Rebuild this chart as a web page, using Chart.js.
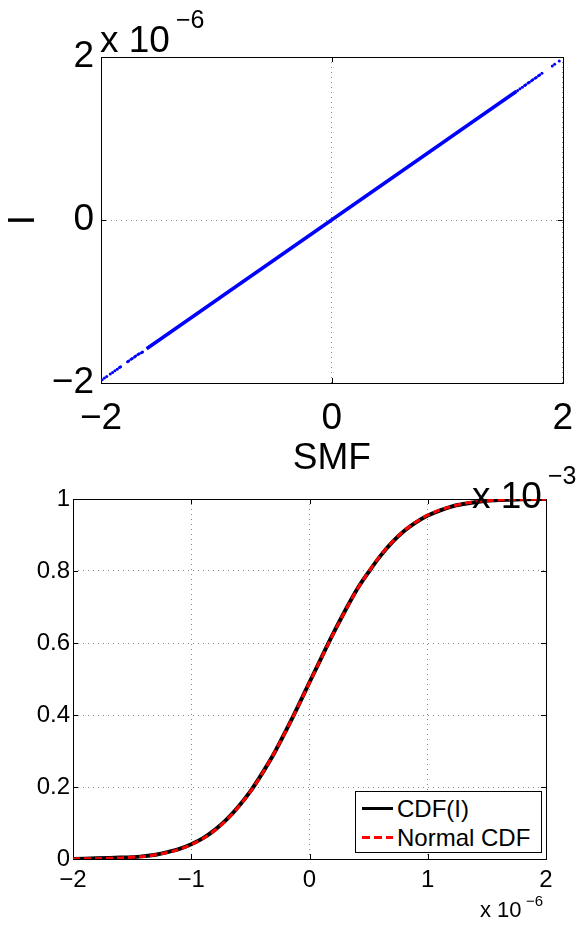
<!DOCTYPE html>
<html>
<head>
<meta charset="utf-8">
<script src="https://cdn.jsdelivr.net/npm/chart.js@4.4.1/dist/chart.umd.min.js"></script>
<style>
  body { margin: 0; background: #fff; width: 587px; height: 925px; position: relative; overflow: hidden;
         font-family: 'Liberation Sans', Arial, sans-serif; }
  canvas { position: absolute; left: 0; }
  .lbl { position: absolute; line-height: 1; white-space: nowrap; color: #000; }
  #legend { position: absolute; left: 355px; top: 791px; width: 185px; height: 60px;
            border: 1px solid #000; background: #fff; }
  #legend .sw { position: absolute; left: 6px; width: 31px; height: 3px; }
  #legend .txt { position: absolute; left: 41px; font-size: 24px; line-height: 1; white-space: nowrap; }
</style>
</head>
<body>
<canvas id="scatterChart" width="587" height="520" style="top:0"></canvas>
<canvas id="cdfChart" width="587" height="455" style="top:470px"></canvas>

<div class="lbl" style="left:100px;top:21px;font-size:37px">x 10</div>
<div class="lbl" style="left:176px;top:7px;font-size:25px">&minus;6</div>
<div class="lbl" style="left:472px;top:477px;font-size:37px">x 10</div>
<div class="lbl" style="left:548px;top:463px;font-size:25px">&minus;3</div>
<div class="lbl" style="left:480px;top:899px;font-size:22px">x 10</div>
<div class="lbl" style="left:526px;top:893px;font-size:15px">&minus;6</div>

<div id="legend">
  <div class="sw" style="top:15px;background:#000"></div>
  <div class="txt" style="top:5px">CDF(I)</div>
  <div class="sw" style="top:44px;background:repeating-linear-gradient(to right,#f00 0 8px,transparent 8px 12px)"></div>
  <div class="txt" style="top:34px">Normal CDF</div>
</div>

<script>
// top plot: I vs SMF (SMF in 1e-3, I in 1e-6)
const denseSmf = [-1.605, 1.60];
const denseI = [-1.58, 1.58];
const tailSmf = [-1.99, -1.97, -1.95, -1.92, -1.90, -1.88, -1.86, -1.84, -1.83,
                 -1.77, -1.76, -1.74, -1.73, -1.71, -1.70, -1.68, -1.67, -1.65, -1.64,
                 1.61, 1.63, 1.65, 1.67, 1.68, 1.70, 1.71, 1.73, 1.74, 1.76, 1.77, 1.79, 1.80, 1.82,
                 1.91, 1.93, 1.97];
const tailI = [-1.96, -1.94, -1.92, -1.89, -1.87, -1.85, -1.83, -1.81, -1.80,
               -1.74, -1.73, -1.71, -1.70, -1.68, -1.67, -1.65, -1.64, -1.63, -1.62,
               1.59, 1.61, 1.63, 1.65, 1.66, 1.68, 1.69, 1.71, 1.72, 1.74, 1.75, 1.77, 1.78, 1.80,
               1.89, 1.91, 1.95];
const topTicks = [-2, 0, 2];

// bottom plot: CDFs (x in 1e-6)
const cdfX = [-2.0, -1.9, -1.8, -1.7, -1.6, -1.5, -1.4, -1.3, -1.2, -1.1, -1.0,
              -0.9, -0.8, -0.7, -0.6, -0.5, -0.4, -0.3, -0.2, -0.1, 0.0,
              0.1, 0.2, 0.3, 0.4, 0.5, 0.6, 0.7, 0.8, 0.9, 1.0,
              1.1, 1.2, 1.3, 1.4, 1.5, 1.6, 1.7, 1.8, 1.9, 2.0];
const cdfEmp = [0.000, 0.001, 0.002, 0.003, 0.004, 0.005, 0.008, 0.012, 0.019, 0.028, 0.041,
                0.058, 0.081, 0.110, 0.146, 0.188, 0.238, 0.293, 0.356, 0.422, 0.491,
                0.559, 0.626, 0.689, 0.748, 0.797, 0.842, 0.880, 0.911, 0.935, 0.954,
                0.968, 0.979, 0.986, 0.991, 0.995, 0.997, 0.998, 0.999, 1.000, 1.000];
const cdfNorm = [0.000, 0.001, 0.001, 0.002, 0.003, 0.005, 0.007, 0.012, 0.018, 0.027, 0.040,
                 0.057, 0.080, 0.109, 0.145, 0.187, 0.237, 0.294, 0.355, 0.421, 0.490,
                 0.558, 0.625, 0.688, 0.747, 0.798, 0.843, 0.881, 0.912, 0.936, 0.955,
                 0.969, 0.979, 0.987, 0.992, 0.995, 0.997, 0.998, 0.999, 0.999, 1.000];
const legendLabels = ['CDF(I)', 'Normal CDF'];

const FONT = "'Liberation Sans', Arial, sans-serif";
Chart.defaults.color = '#000';
Chart.defaults.font.family = FONT;

function fmt(v) {
    const r = Math.round(v * 10) / 10;
    return r < 0 ? '\u2212' + (-r) : String(r);
}

// matlab style box with inward ticks
const boxPlugin = {
    id: 'box',
    beforeDatasetsDraw(chart) {
        const { ctx, chartArea: a, scales } = chart;
        const len = 5;
        ctx.save();
        ctx.strokeStyle = '#000';
        ctx.lineWidth = 1;
        ctx.beginPath();
        scales.x.ticks.forEach(t => {
            const px = Math.round(scales.x.getPixelForValue(t.value)) + 0.5;
            ctx.moveTo(px, a.bottom); ctx.lineTo(px, a.bottom - len);
            ctx.moveTo(px, a.top); ctx.lineTo(px, a.top + len);
        });
        scales.y.ticks.forEach(t => {
            const py = Math.round(scales.y.getPixelForValue(t.value)) + 0.5;
            ctx.moveTo(a.left, py); ctx.lineTo(a.left + len, py);
            ctx.moveTo(a.right, py); ctx.lineTo(a.right - len, py);
        });
        ctx.stroke();
        ctx.strokeRect(Math.round(a.left) + 0.5, Math.round(a.top) + 0.5,
                       Math.round(a.right - a.left), Math.round(a.bottom - a.top));
        ctx.restore();
    }
};

function gridOpts() {
    return { color: '#888', lineWidth: 1, drawTicks: false, borderDash: [1, 4] };
}

new Chart(document.getElementById('scatterChart'), {
    type: 'scatter',
    data: {
        datasets: [{
            data: denseSmf.map((x, i) => ({ x: x, y: denseI[i] })),
            showLine: true,
            borderColor: '#0000ff',
            borderWidth: 3.5,
            pointRadius: 0
        }, {
            data: tailSmf.map((x, i) => ({ x: x, y: tailI[i] })),
            backgroundColor: '#0000ff',
            borderWidth: 0,
            pointRadius: 1.5
        }]
    },
    options: {
        responsive: false,
        animation: false,
        events: [],
        layout: { padding: { left: 0, top: 57, right: 13, bottom: 37 } },
        plugins: { legend: { display: false }, tooltip: { enabled: false } },
        scales: {
            x: {
                type: 'linear', min: -2, max: 2,
                afterBuildTicks: s => { s.ticks = topTicks.map(v => ({ value: v })); },
                ticks: { padding: 14, font: { size: 37 }, callback: fmt, maxRotation: 0, autoSkip: false },
                grid: gridOpts(),
                border: { display: false, dash: [1, 4] },
                title: { display: true, text: 'SMF', font: { size: 37 }, padding: { top: 0, bottom: 2 } },
                afterFit: s => { s.height = 100; }
            },
            y: {
                type: 'linear', min: -2, max: 2,
                afterBuildTicks: s => { s.ticks = topTicks.map(v => ({ value: v })); },
                ticks: { padding: 7, font: { size: 37 }, callback: fmt, autoSkip: false },
                grid: gridOpts(),
                border: { display: false, dash: [1, 4] },
                title: { display: true, text: 'I', font: { size: 37 }, padding: { top: 2, bottom: 0 } },
                afterFit: s => { s.width = 101; }
            }
        }
    },
    plugins: [boxPlugin]
});

new Chart(document.getElementById('cdfChart'), {
    type: 'scatter',
    data: {
        datasets: [{
            label: legendLabels[0],
            data: cdfX.map((x, i) => ({ x: x, y: cdfEmp[i] })),
            showLine: true,
            borderColor: '#000',
            borderWidth: 4,
            pointRadius: 0,
            cubicInterpolationMode: 'monotone',
            order: 2
        }, {
            label: legendLabels[1],
            data: cdfX.map((x, i) => ({ x: x, y: cdfNorm[i] })),
            showLine: true,
            borderColor: '#ff0000',
            borderWidth: 3,
            borderDash: [7, 4],
            pointRadius: 0,
            cubicInterpolationMode: 'monotone',
            order: 1
        }]
    },
    options: {
        responsive: false,
        animation: false,
        events: [],
        layout: { padding: { left: 0, top: 29, right: 41, bottom: 26 } },
        plugins: { legend: { display: false }, tooltip: { enabled: false } },
        scales: {
            x: {
                type: 'linear', min: -2, max: 2,
                ticks: { stepSize: 1, padding: 7, font: { size: 24 }, callback: fmt, maxRotation: 0, autoSkip: false },
                grid: gridOpts(),
                border: { display: false, dash: [1, 4] },
                afterFit: s => { s.height = 40; }
            },
            y: {
                type: 'linear', min: 0, max: 1,
                ticks: { stepSize: 0.2, padding: 3, font: { size: 24 }, callback: fmt, autoSkip: false },
                grid: gridOpts(),
                border: { display: false, dash: [1, 4] },
                afterFit: s => { s.width = 73; }
            }
        }
    },
    plugins: [boxPlugin]
});
</script>
</body>
</html>
